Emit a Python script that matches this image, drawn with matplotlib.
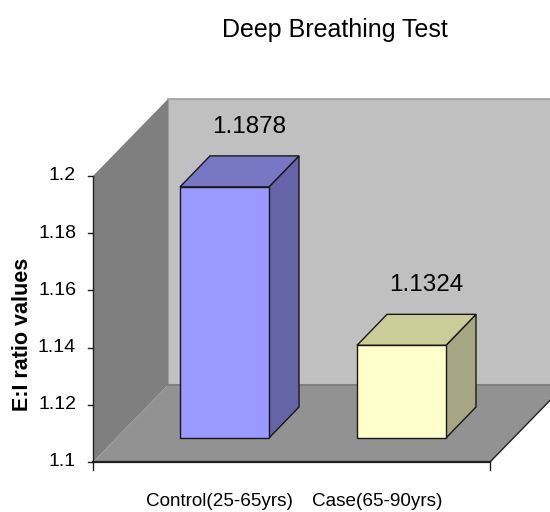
import matplotlib
matplotlib.use('Agg')
import matplotlib.pyplot as plt
from matplotlib.patches import Polygon

plt.rcParams['font.family'] = ['Liberation Sans', 'DejaVu Sans']

categories = ['Control(25-65yrs)', 'Case(65-90yrs)']
values = [1.1878, 1.1324]
y_ticks = [1.1, 1.12, 1.14, 1.16, 1.18, 1.2]
tick_labels = ['1.1', '1.12', '1.14', '1.16', '1.18', '1.2']

W, H = 550, 512
# y axis: 1.1 sits at pixel 462, 1.2 at pixel 176
per_px = 0.1 / 286
y_bottom = 1.1 - (H - 462) * per_px
y_top = y_bottom + H * per_px

fig = plt.figure(figsize=(W / 100, H / 100), dpi=100, facecolor='white')
ax = fig.add_axes([0, 0, 1, 1])
ax.set_xlim(0, W)
ax.set_ylim(y_bottom, y_top)
ax.axis('off')


def up(px):
    return px * per_px


x0, x1 = 93, 490
dx, dy = 75, up(77)
ymin, ymax = 1.1, 1.2
edge = '#181818'

# walls and floor
ax.add_patch(Polygon([(x0 + dx, ymin + dy), (W, ymin + dy), (W, ymax + dy), (x0 + dx, ymax + dy)],
                     fc='#c0c0c0', ec='none', zorder=1))
ax.plot([x0 + dx, W], [ymax + dy, ymax + dy], color='#a0a0a0', lw=1.2, zorder=2)
ax.add_patch(Polygon([(x0, ymin), (x0 + dx, ymin + dy), (x0 + dx, ymax + dy), (x0, ymax)],
                     fc='#7f7f7f', ec='none', zorder=2))
ax.plot([x0 + dx, x0 + dx], [ymin + dy, ymax + dy], color='#a0a0a0', lw=0.8, zorder=2)
ax.add_patch(Polygon([(x0, ymin), (x1, ymin), (x1 + dx, ymin + dy), (x0 + dx, ymin + dy)],
                     fc='#929292', ec='none', zorder=2))
ax.plot([x0 + dx, W], [ymin + dy, ymin + dy], color='#808080', lw=1.5, zorder=2)
ax.plot([x1, x1 + dx], [ymin, ymin + dy], color='#202020', lw=1.0, zorder=3)
ax.plot([x0, x1], [ymin, ymin], color='#202020', lw=1.6, zorder=5)

# bars
lefts = [180, 357]
bar_w = 89
colors = [('#9999ff', '#7777c4', '#6464a6'), ('#ffffcc', '#cccc99', '#a6a682')]
bar_dx, bar_dy = 30, up(31)
off_y = up(24)
for left, val, (front, top, side) in zip(lefts, values, colors):
    b, t = ymin + off_y, val + off_y
    r = left + bar_w
    ax.add_patch(Polygon([(r, b), (r + bar_dx, b + bar_dy), (r + bar_dx, t + bar_dy), (r, t)],
                         fc=side, ec=edge, lw=1.0, zorder=3))
    ax.add_patch(Polygon([(left, t), (r, t), (r + bar_dx, t + bar_dy), (left + bar_dx, t + bar_dy)],
                         fc=top, ec=edge, lw=1.0, zorder=3))
    ax.add_patch(Polygon([(left, b), (r, b), (r, t), (left, t)],
                         fc=front, ec=edge, lw=1.0, zorder=4))
    ax.text(left + 69, t + bar_dy + up(29), f'{val:.4f}', ha='center', va='center',
            fontsize=17.5, zorder=5)

# y axis
ax.plot([x0, x0], [ymin, ymax], color='#202020', lw=1.0, zorder=5)
for tick, lab in zip(y_ticks, tick_labels):
    ax.plot([x0 - 5, x0], [tick, tick], color='#202020', lw=1.0, zorder=5)
    ax.text(76, tick, lab, ha='right', va='center', fontsize=14)

# x axis labels
ax.plot([x0, x0], [ymin - up(8), ymin], color='#202020', lw=1.0, zorder=5)
ax.plot([x1, x1], [ymin - up(8), ymin], color='#202020', lw=1.0, zorder=5)
ax.text(219, y_bottom + up(10), categories[0], ha='center', va='center', fontsize=13.6)
ax.text(377, y_bottom + up(10), categories[1], ha='center', va='center', fontsize=13.6)

ax.text(335, y_bottom + up(482), 'Deep Breathing Test', ha='center', va='center', fontsize=18)
ax.text(23, y_bottom + up(178), 'E:I ratio values', rotation=90, ha='center', va='center',
        fontsize=15.5, fontweight='bold')

fig.savefig('out.png', dpi=100)
